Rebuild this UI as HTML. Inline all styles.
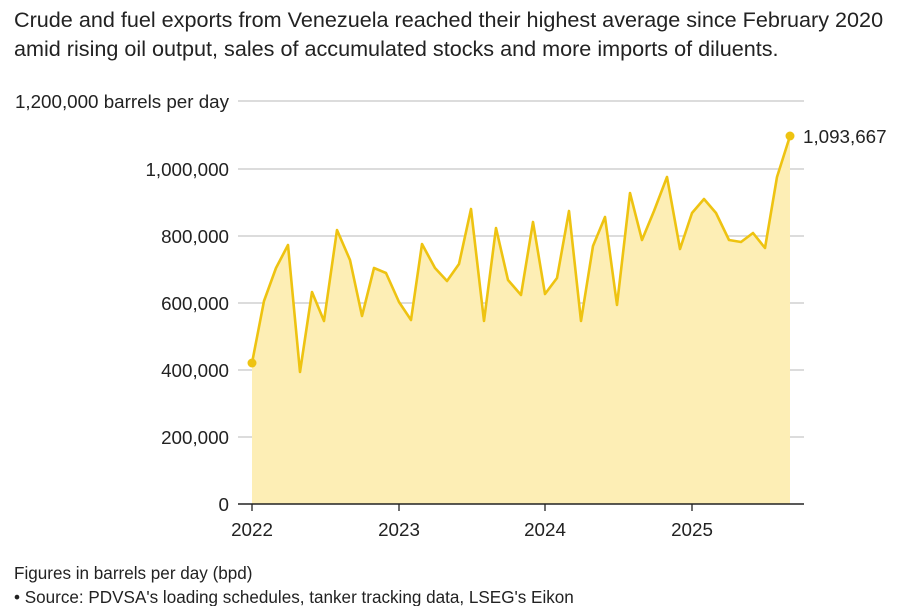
<!DOCTYPE html>
<html><head><meta charset="utf-8"><style>
body{margin:0;background:#fff;width:898px;height:606px;overflow:hidden;font-family:"Liberation Sans",sans-serif;}
</style></head><body>
<svg width="898" height="606" xmlns="http://www.w3.org/2000/svg" font-family="Liberation Sans, sans-serif">
<text x="14" y="27" font-size="21.6" fill="#222">Crude and fuel exports from Venezuela reached their highest average since February 2020</text>
<text x="14" y="56" font-size="21.6" fill="#222">amid rising oil output, sales of accumulated stocks and more imports of diluents.</text>
<g stroke="#c8c8c8" stroke-width="1.2">
<line x1="238" y1="101" x2="804" y2="101"/><line x1="238" y1="169" x2="804" y2="169"/>
<line x1="238" y1="236" x2="804" y2="236"/><line x1="238" y1="303" x2="804" y2="303"/>
<line x1="238" y1="370" x2="804" y2="370"/><line x1="238" y1="437" x2="804" y2="437"/>
</g>
<polygon fill="#fdeeb5" points="252,504 252,363 264,301 276,268 288,245 300,372 312,292 324,321 337,230 350,260 362,316 374,268 386,273 399,302 411,320 422,244 435,268 447,281 459,264 471,209 484,321 496,228 508,280 521,295 533,222 545,294 557,278 569,211 581,321 593,246 605,217 617,305 630,193 642,240 654,211 667,177 680,249 692,213 704,199 716,213 729,240 741,242 753,233 765,248 777,177 790,136 790,504"/>
<polyline fill="none" stroke="#eec311" stroke-width="2.6" stroke-linejoin="round" points="252,363 264,301 276,268 288,245 300,372 312,292 324,321 337,230 350,260 362,316 374,268 386,273 399,302 411,320 422,244 435,268 447,281 459,264 471,209 484,321 496,228 508,280 521,295 533,222 545,294 557,278 569,211 581,321 593,246 605,217 617,305 630,193 642,240 654,211 667,177 680,249 692,213 704,199 716,213 729,240 741,242 753,233 765,248 777,177 790,136"/>
<circle cx="252" cy="363" r="4.5" fill="#eec311"/><circle cx="790" cy="136" r="4.5" fill="#eec311"/>
<line x1="238" y1="504" x2="804" y2="504" stroke="#222" stroke-width="1.5"/>
<g stroke="#222" stroke-width="1.3"><line x1="252" y1="504" x2="252" y2="511"/><line x1="399" y1="504" x2="399" y2="511"/><line x1="545" y1="504" x2="545" y2="511"/><line x1="692" y1="504" x2="692" y2="511"/></g>
<g font-size="18.8" fill="#222" text-anchor="end">
<text x="229" y="108">1,200,000 barrels per day</text>
<text x="229" y="176">1,000,000</text><text x="229" y="243">800,000</text><text x="229" y="310">600,000</text>
<text x="229" y="377">400,000</text><text x="229" y="444">200,000</text><text x="229" y="511">0</text>
</g>
<g font-size="18.8" fill="#222" text-anchor="middle">
<text x="252" y="536">2022</text><text x="399" y="536">2023</text><text x="545" y="536">2024</text><text x="692" y="536">2025</text>
</g>
<text x="803" y="143" font-size="18.8" fill="#222">1,093,667</text>
<text x="14" y="579" font-size="17.1" fill="#222">Figures in barrels per day (bpd)</text>
<text x="14" y="603" font-size="17.1" fill="#222">• Source: PDVSA's loading schedules, tanker tracking data, LSEG's Eikon</text>
</svg>
</body></html>
